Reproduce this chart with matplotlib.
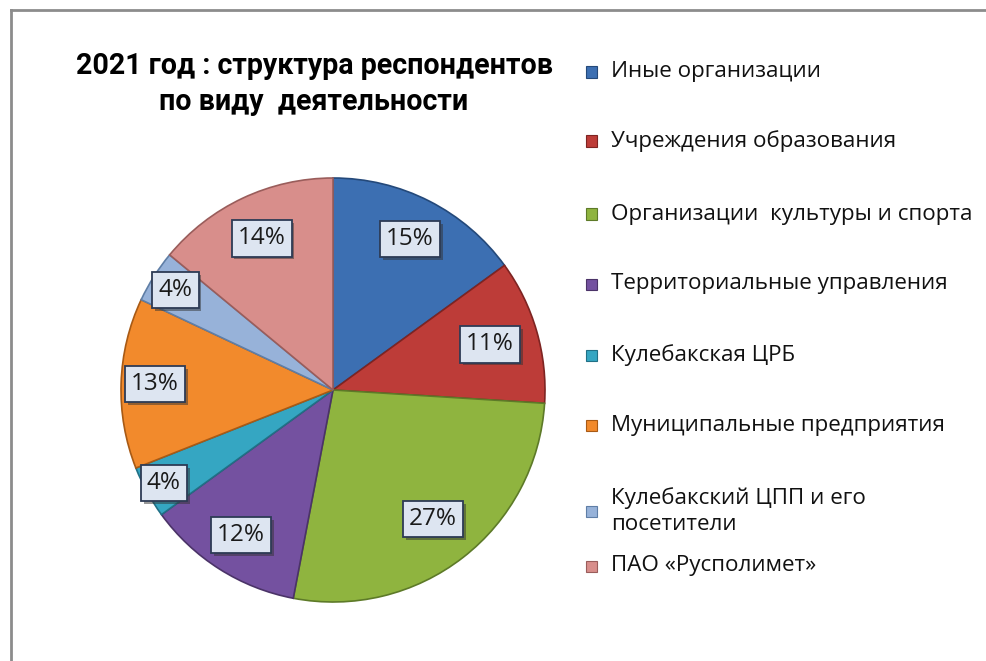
import matplotlib
matplotlib.use("Agg")
import matplotlib.pyplot as plt
import matplotlib.patheffects as pe
from matplotlib.patches import Rectangle
from matplotlib.lines import Line2D
import numpy as np

plt.rcParams['font.family'] = ['Open Sans', 'DejaVu Sans']

# ---- data ----
categories = [
    "Иные организации",
    "Учреждения образования",
    "Организации  культуры и спорта",
    "Территориальные управления",
    "Кулебакская ЦРБ",
    "Муниципальные предприятия",
    "Кулебакский ЦПП и его\nпосетители",
    "ПАО «Русполимет»",
]
values = [15, 11, 27, 12, 4, 13, 4, 14]
pct_labels = ["15%", "11%", "27%", "12%", "4%", "13%", "4%", "14%"]
title = "2021 год : структура респондентов\nпо виду  деятельности"

# ---- styles ----
colors = ["#3c6fb2", "#bd3c38", "#8fb43f", "#7451a0", "#35a6c2",
          "#f28a2c", "#97b2d9", "#d88e8b"]
edge_colors = ["#24497a", "#7e2422", "#5d7a28", "#4b3368", "#217086",
               "#a85a15", "#5f7ea6", "#9a5d5b"]
label_dist = [0.80, 0.77, 0.77, 0.81, 0.91, 0.84, 0.88, 0.79]
legend_rows = [72, 141, 214, 284, 355, 425, 511, 566]  # pixel row centres

W, H = 986, 661
fig = plt.figure(figsize=(W / 100, H / 100), dpi=100)
fig.patch.set_facecolor("white")

# chart frame (top and left edges visible)
fig.add_artist(Line2D([11 / W, 1.0], [1 - 10 / H, 1 - 10 / H], color="#8c8c8c",
                      lw=2, transform=fig.transFigure))
fig.add_artist(Line2D([11 / W, 11 / W], [0, 1 - 10 / H], color="#8c8c8c",
                      lw=2, transform=fig.transFigure))

# pie
cx, cy, r = 333, 390, 212
ax = fig.add_axes([(cx - r) / W, 1 - (cy + r) / H, 2 * r / W, 2 * r / H])
wedges, _ = ax.pie(values, colors=colors, startangle=90, counterclock=False,
                   radius=1.0, wedgeprops=dict(linewidth=1.2))
for w, ec in zip(wedges, edge_colors):
    w.set_edgecolor(ec)
ax.set_xlim(-1.0, 1.0)
ax.set_ylim(-1.0, 1.0)
ax.set_aspect("equal")
ax.axis("off")

for w, lab, d in zip(wedges, pct_labels, label_dist):
    ang = np.deg2rad((w.theta1 + w.theta2) / 2)
    x, y = d * np.cos(ang), d * np.sin(ang)
    t = ax.text(x, y, lab, ha="center", va="center", fontsize=17.5,
                color="#1a1a1a",
                bbox=dict(boxstyle="square,pad=0.25", facecolor="#dde5f1",
                          edgecolor="#2d3b55", linewidth=1.3))
    t.get_bbox_patch().set_path_effects(
        [pe.withSimplePatchShadow(offset=(2, -2), shadow_rgbFace="#333333", alpha=0.5)])

# title
fig.text(314 / W, 1 - 84 / H, title, ha="center", va="center", fontsize=20.6,
         fontweight="bold", color="black", linespacing=1.32,
         family=['Roboto', 'DejaVu Sans'])

# legend (manual)
for lab, c, ec, yrow in zip(categories, colors, edge_colors, legend_rows):
    sq = 11
    fig.add_artist(Rectangle((586 / W, 1 - (yrow + sq / 2) / H), sq / W, sq / H,
                             facecolor=c, edgecolor=ec, lw=0.8,
                             transform=fig.transFigure))
    fig.text(611 / W, 1 - yrow / H, lab, ha="left", va="center", fontsize=16.1,
             color="#111111", linespacing=1.3)

fig.savefig("out.png", dpi=100)
